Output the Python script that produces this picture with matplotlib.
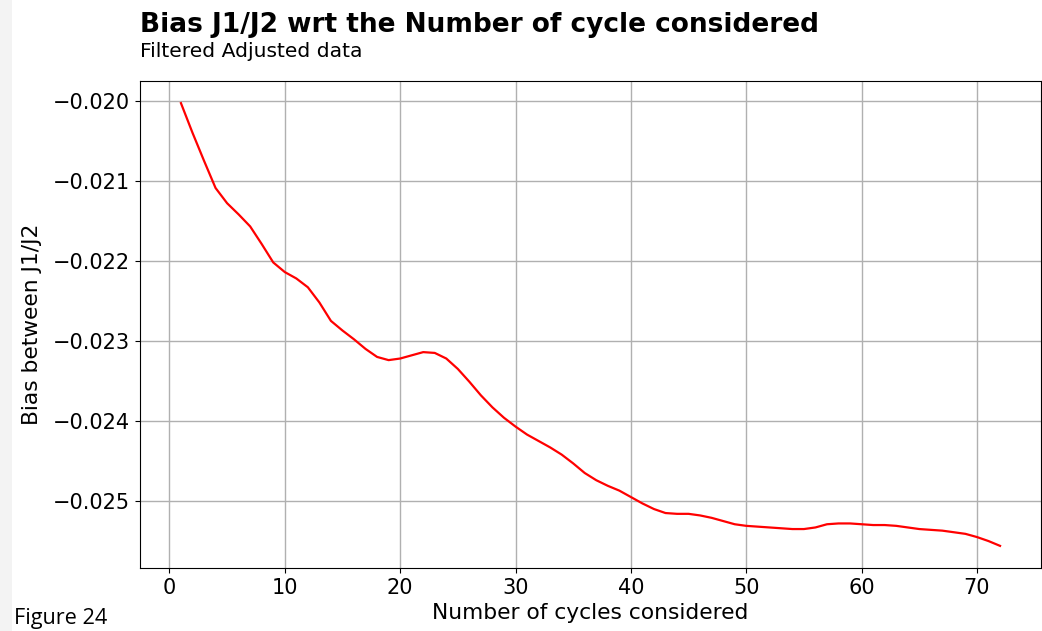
import matplotlib
matplotlib.use("Agg")
import matplotlib.pyplot as plt
from matplotlib.patches import Rectangle

# Number of cycles considered and the corresponding J1/J2 bias
cycles = list(range(1, 73))
bias = [
    -0.02003, -0.02040, -0.02075, -0.02109, -0.02128, -0.02142, -0.02157, -0.02179,
    -0.02202, -0.02214, -0.02222, -0.02233, -0.02252, -0.02275, -0.02287, -0.02298,
    -0.02310, -0.02320, -0.02324, -0.02322, -0.02318, -0.02314, -0.02315, -0.02322,
    -0.02335, -0.02351, -0.02368, -0.02383, -0.02396, -0.02407, -0.02417, -0.02425,
    -0.02433, -0.02442, -0.02453, -0.02465, -0.02474, -0.02481, -0.02487, -0.02495,
    -0.02503, -0.02510, -0.02515, -0.02516, -0.02516, -0.02518, -0.02521, -0.02525,
    -0.02529, -0.02531, -0.02532, -0.02533, -0.02534, -0.02535, -0.02535, -0.02533,
    -0.02529, -0.02528, -0.02528, -0.02529, -0.02530, -0.02530, -0.02531, -0.02533,
    -0.02535, -0.02536, -0.02537, -0.02539, -0.02541, -0.02545, -0.02550, -0.02556,
]

title = "Bias J1/J2 wrt the Number of cycle considered"
subtitle = "Filtered Adjusted data"
xlabel = "Number of cycles considered"
ylabel = "Bias between J1/J2"
caption = "Figure 24"

W, H = 1042, 631
fig = plt.figure(figsize=(W / 100, H / 100), dpi=100)

# pale margin strip on the left edge of the page
fig.patches.append(Rectangle((0, 0), 12 / W, 1, transform=fig.transFigure,
                             facecolor="#f3f3f3", edgecolor="none", zorder=0))

ax = fig.add_axes([140 / W, (H - 568) / H, 901 / W, 487 / H])
ax.plot(cycles, bias, color="red", linewidth=1.6)
ax.grid(True, color="#b0b0b0", linewidth=1.0)
ax.set_axisbelow(True)

ax.tick_params(labelsize=15)
ax.set_xlabel(xlabel, fontsize=15.7, labelpad=4)
ax.set_ylabel(ylabel, fontsize=15.7, labelpad=8)

fig.text(140 / W, 1 - 32 / H, title, fontsize=19, fontweight="bold",
         va="baseline", ha="left")
fig.text(140 / W, 1 - 57 / H, subtitle, fontsize=14.6, va="baseline", ha="left")
fig.text(14 / W, 1 - 624 / H, caption, fontsize=15.6, family="Open Sans",
         va="baseline", ha="left")

fig.savefig("out.png", dpi=100)
